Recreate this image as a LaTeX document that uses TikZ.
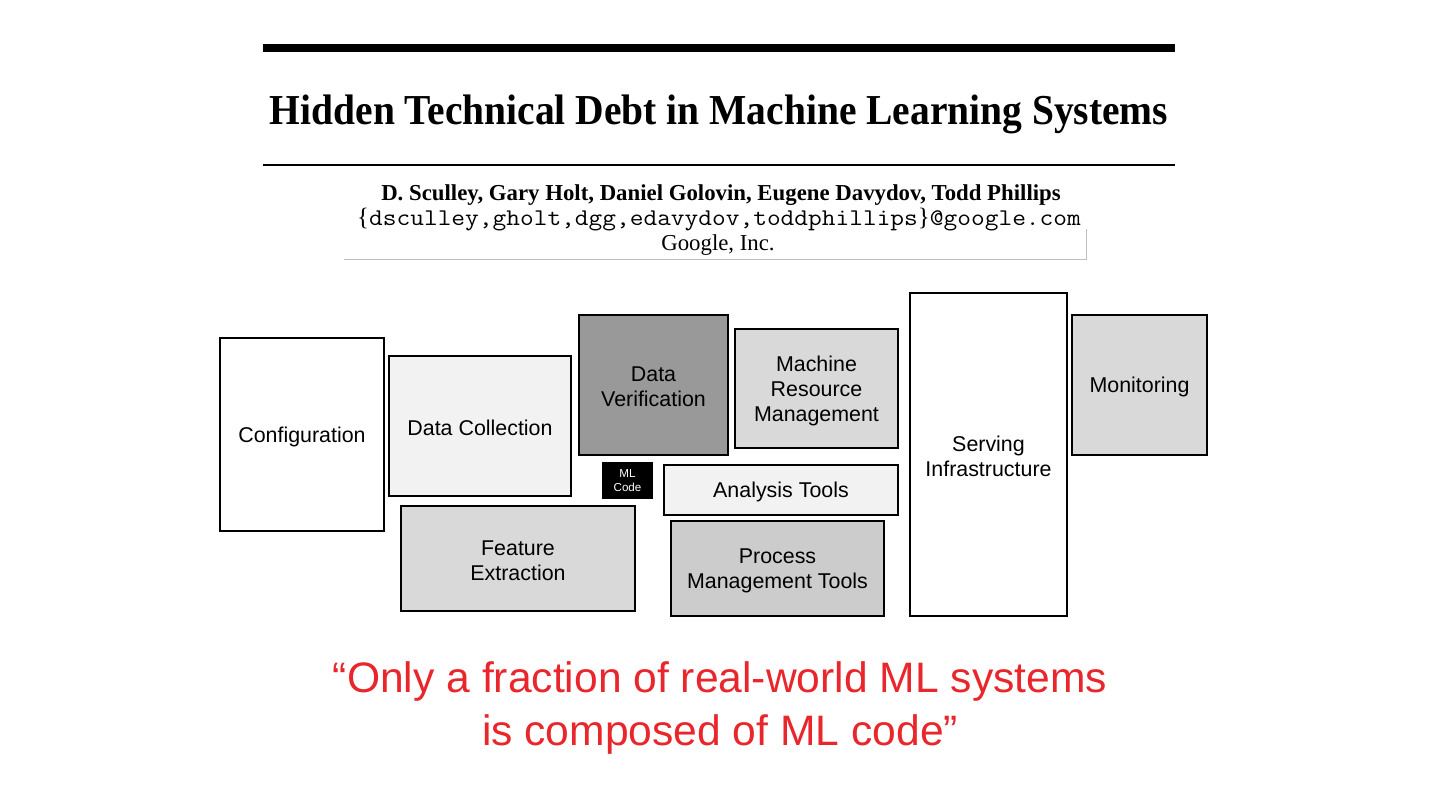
\documentclass[tikz,border=0pt]{standalone}
\usepackage{fontspec}
\setmainfont{Liberation Serif}
\newfontfamily\boxfont{Liberation Sans}
\usepackage{xcolor}
\usepackage{tikz}
\usetikzlibrary{positioning}
\definecolor{quotered}{RGB}{232,38,44}
\definecolor{lightfill}{HTML}{F2F2F2}
\definecolor{midfill}{HTML}{D9D9D9}
\definecolor{darkfill}{HTML}{CCCCCC}
\definecolor{verifyfill}{HTML}{999999}
\tikzset{
  boxlabel/.style={align=center,inner sep=0pt,yshift=-1pt,
    font=\boxfont\fontsize{10.7}{12.5}\selectfont},
  blockbox/.style={draw=black,line width=1pt,inner sep=0pt,
    label={[boxlabel]center:{#1}}},
  codebox/.style={fill=black,text=white,align=center,inner sep=0pt,
    minimum width=25.5pt,minimum height=18.5pt,
    font=\boxfont\fontsize{5.8}{6.8}\selectfont},
  titletext/.style={anchor=base,inner sep=0pt,font=\bfseries\fontsize{19.75}{22}\selectfont},
  authortext/.style={anchor=base,inner sep=0pt,font=\fontsize{11.4}{13}\selectfont},
  quotetext/.style={text=quotered,align=center,inner sep=0pt,
    font=\boxfont\fontsize{21.3}{26.5}\selectfont}
}

\begin{document}
\begin{tikzpicture}[x=0.5pt,y=-0.5pt]
  \useasboundingbox (0,0) rectangle (1440,810);
  % paper header
  \draw[line width=4pt] (263,48) -- (1175,48);
  \node[titletext] (title) at (719,124) {\scalebox{1}[1.08]{Hidden Technical Debt in Machine Learning Systems}};
  \draw[line width=1pt] (263,165) -- (1175,165);
  \node[authortext,font=\bfseries\fontsize{11.4}{13}\selectfont] (authors) at (721,200)
    {D. Sculley, Gary Holt, Daniel Golovin, Eugene Davydov, Todd Phillips};
  \node[authortext] (emails) at (719,225)
    {{\fontsize{12.5}{13}\selectfont\{}\scalebox{1.11}[1]{\ttfamily\fontsize{12}{13}\selectfont dsculley,gholt,dgg,edavydov,toddphillips}{\fontsize{12.5}{13}\selectfont\}}%
     \scalebox{1.11}[1]{\ttfamily\fontsize{12}{13}\selectfont @google.com}};
  \node[authortext] (affil) at (718,250) {Google, Inc.};
  \draw[black!25,line width=0.5pt] (344,259) -- (1086,259) -- (1086,229);
  % system blocks
  \node[blockbox=Configuration,minimum width=82pt,minimum height=96.5pt] (config) at (302,434.5) {};
  \node[blockbox=Data Collection,fill=lightfill,minimum width=91pt,minimum height=70pt] (collect) at (480,426) {};
  \node[blockbox={Data\\Verification},fill=verifyfill,minimum width=74.5pt,minimum height=70pt] (verify) at (653.5,385) {};
  \node[codebox] (mlcode) at (627.5,480.5) {ML\\Code};
  \node[blockbox={Feature\\Extraction},fill=midfill,minimum width=117pt,minimum height=52.5pt] (feature) at (518,558.5) {};
  \node[blockbox={Machine\\Resource\\Management},fill=midfill,minimum width=81.5pt,minimum height=59.5pt] (resource) at (816.5,388.5) {};
  \node[blockbox=Analysis Tools,fill=lightfill,minimum width=117pt,minimum height=25pt] (analysis) at (781,490) {};
  \node[blockbox={Process\\Management Tools},fill=darkfill,minimum width=106.5pt,minimum height=47.5pt] (process) at (777.5,568.5) {};
  \node[blockbox={Serving\\Infrastructure},minimum width=78.5pt,minimum height=161.5pt] (serving) at (988.5,454.5) {};
  \node[blockbox=Monitoring,fill=midfill,minimum width=67.5pt,minimum height=70pt] (monitor) at (1139.5,385) {};
  % quote
  \node[quotetext] (quote) at (720,708) {“Only a fraction of real-world ML systems\\is composed of ML code”};
\end{tikzpicture}
\end{document}
